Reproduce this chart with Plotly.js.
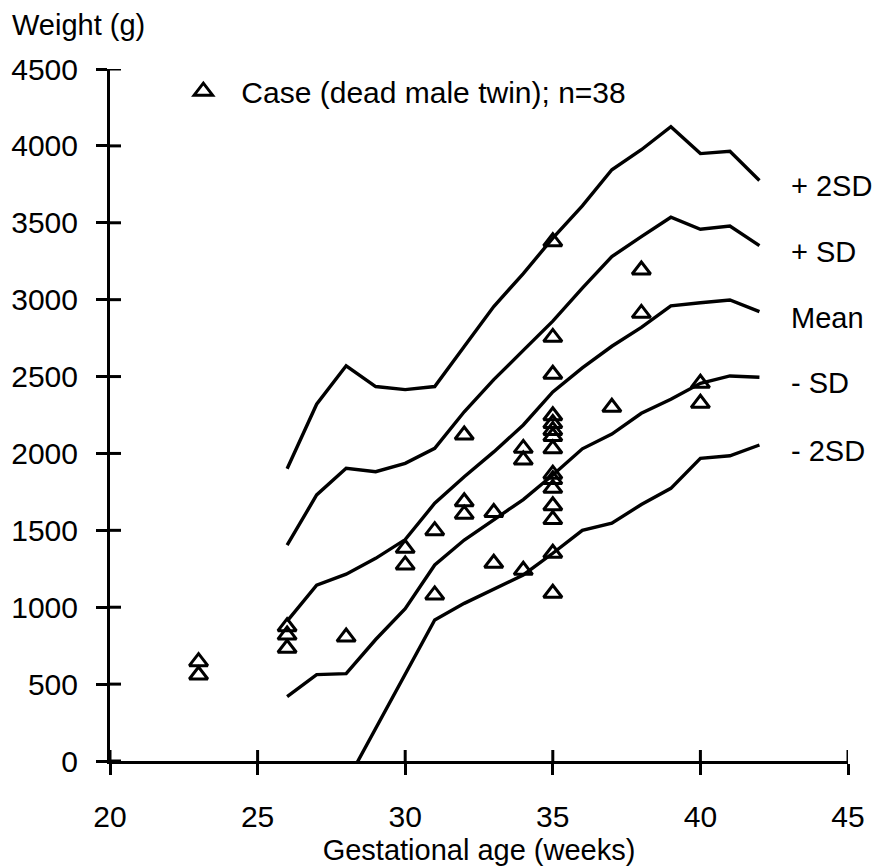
<!DOCTYPE html>
<html><head><meta charset="utf-8">
<script src="https://cdn.plot.ly/plotly-3.0.1.min.js"></script>
<style>html,body{margin:0;padding:0;background:#fff}</style>
</head><body><div id="chart" style="width:882px;height:866px"></div>
<script>
// Reference curves (gestational week -> weight g)
const refWeeks = [26,27,28,29,30,31,32,33,34,35,36,37,38,39,40,41,42];
const plus2SD  = [1900,2320,2570,2435,2415,2435,2695,2955,3170,3400,3610,3845,3975,4125,3950,3965,3775];
const plusSD   = [1404,1730,1903,1881,1936,2033,2271,2480,2670,2860,3075,3280,3410,3536,3458,3479,3351];
const meanW    = [910,1144,1215,1318,1440,1676,1849,2010,2185,2400,2556,2697,2820,2960,2980,2998,2922];
const minusSD  = [418,562,568,790,990,1275,1437,1567,1700,1860,2030,2126,2261,2352,2456,2504,2495];
const minus2SDWeeks = [28,29,30,31,32,33,34,35,36,37,38,39,40,41,42];
const minus2SD = [-141,212,564,917,1025,1120,1210,1351,1500,1546,1668,1773,1968,1985,2055];
const curveLabels = ['+ 2SD','+ SD','Mean','- SD','- 2SD'];

// Cases (dead male twin)
const caseWeeks = [23,23,26,26,26,28,30,30,31,31,32,32,32,33,33,34,34,34,
  35,35,35,35,35,35,35,35,35,35,35,35,35,35,35,37,38,38,40,40];
const caseWeights = [646,559,873,819,733,806,1383,1275,1498,1080,2120,1686,1605,1616,1286,2033,1957,1240,
  3377,2755,2515,2245,2195,2150,2110,2030,1865,1830,1773,1660,1570,1351,1091,2300,3193,2911,2456,2326];
const legendName = 'Case (dead male twin); n=38';

// Axis ticks
const xTicks = [20,25,30,35,40,45];
const yTicks = [0,500,1000,1500,2000,2500,3000,3500,4000,4500];

const FONT = 'Liberation Sans, Arial, Helvetica, sans-serif';
const lineStyle = {color:'#000', width:3.4};
const TICKLEN = 11;

const curves = [
  {x:refWeeks, y:plus2SD},
  {x:refWeeks, y:plusSD},
  {x:refWeeks, y:meanW},
  {x:refWeeks, y:minusSD},
  {x:minus2SDWeeks, y:minus2SD}
];

const traces = curves.map((c,i) => ({
  type:'scatter', mode:'lines', x:c.x, y:c.y, line:lineStyle,
  showlegend:false, hoverinfo:'skip', name:curveLabels[i]
}));

traces.push({
  type:'scatter', mode:'markers', x:caseWeeks, y:caseWeights, name:legendName,
  marker:{symbol:'triangle-up-open', size:16, color:'#000', line:{width:3, color:'#000'}},
  cliponaxis:false, showlegend:true
});

const annotations = curves.map((c,i) => ({
  xref:'x', yref:'y', x:c.x[c.x.length-1], y:c.y[c.y.length-1],
  text:curveLabels[i], showarrow:false, xanchor:'left', yanchor:'middle',
  xshift:30, yshift:-6, font:{family:FONT, size:29, color:'#000'}
}));
annotations.push({
  xref:'paper', yref:'paper', x:-0.136, y:1.064, xanchor:'left', yanchor:'middle',
  text:'Weight (g)', showarrow:false, font:{family:FONT, size:29, color:'#000'}
});

// inner half of the crossing tick marks
const shapes = [];
xTicks.forEach(v => shapes.push({
  type:'line', layer:'above', xref:'x', yref:'y', ysizemode:'pixel', yanchor:0,
  x0:v, x1:v, y0:0, y1:TICKLEN, line:{color:'#000', width:3}
}));
yTicks.forEach(v => shapes.push({
  type:'line', layer:'above', xref:'x', yref:'y', xsizemode:'pixel', xanchor:20,
  y0:v, y1:v, x0:0, x1:TICKLEN, line:{color:'#000', width:3}
}));

const axCommon = {
  showgrid:false, zeroline:false, showline:true, linecolor:'#000', linewidth:3,
  tickcolor:'#000', tickwidth:3, ticklen:TICKLEN, ticks:'outside'
};

const layout = {
  width:882, height:866,
  margin:{l:110, r:34, t:69, b:105},
  paper_bgcolor:'#fff', plot_bgcolor:'#fff',
  font:{family:FONT, size:29, color:'#000'},
  xaxis: Object.assign({}, axCommon, {
    range:[20,45], tickvals:xTicks,
    ticklabelstandoff:16, tickfont:{family:FONT, size:30},
    title:{text:'Gestational age (weeks)', font:{family:FONT, size:29}, standoff:12}
  }),
  yaxis: Object.assign({}, axCommon, {
    range:[0,4500], tickvals:yTicks,
    ticklabelstandoff:12, tickfont:{family:FONT, size:30}
  }),
  showlegend:true,
  legend:{x:0.075, y:0.968, xanchor:'left', yanchor:'middle', itemwidth:66,
    font:{family:FONT, size:30, color:'#000'}, bgcolor:'rgba(0,0,0,0)', borderwidth:0},
  annotations:annotations,
  shapes:shapes
};

Plotly.newPlot('chart', traces, layout, {displayModeBar:false, staticPlot:true});
</script>
</body></html>
